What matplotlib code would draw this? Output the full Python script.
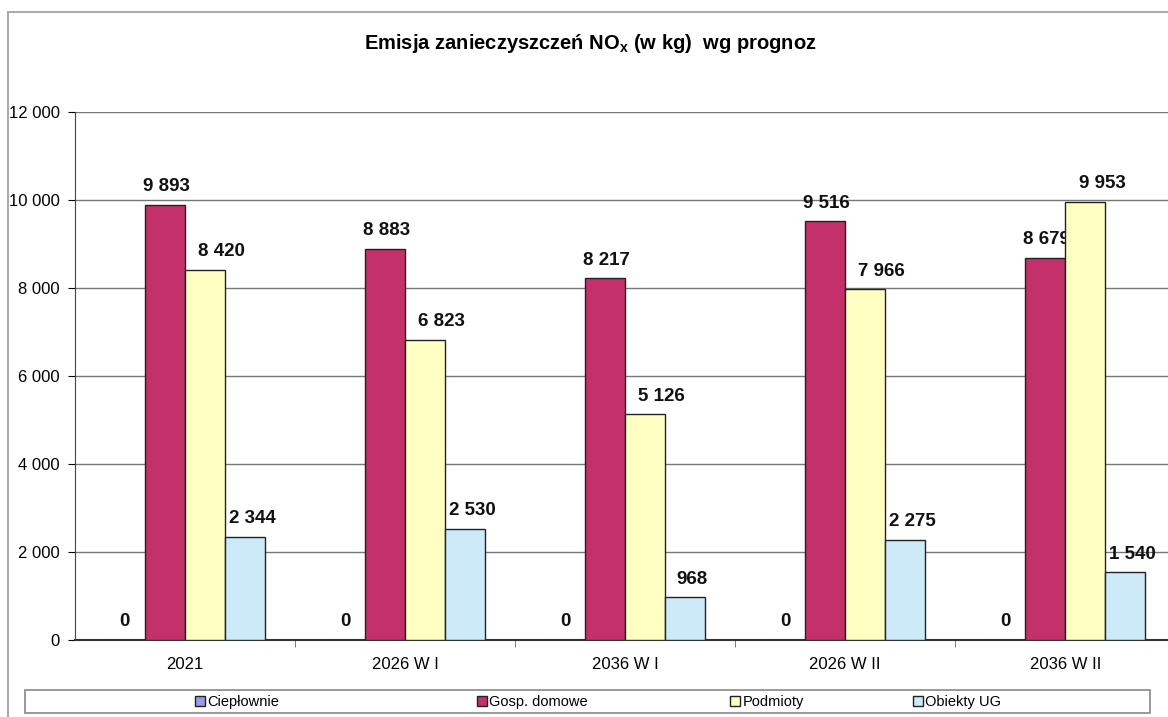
import numpy as np
import matplotlib.pyplot as plt
from matplotlib.patches import Rectangle, Patch
from matplotlib.ticker import FuncFormatter

plt.rcParams['font.family'] = ['Liberation Sans', 'DejaVu Sans']

kategorie = ["2021", "2026 W I", "2036 W I", "2026 W II", "2036 W II"]
cieplownie = [0, 0, 0, 0, 0]
gosp_domowe = [9893, 8883, 8217, 9516, 8679]
podmioty = [8420, 6823, 5126, 7966, 9953]
obiekty_ug = [2344, 2530, 968, 2275, 1540]

serie = ["Ciepłownie", "Gosp. domowe", "Podmioty", "Obiekty UG"]
kolory = ["#9a9ae6", "#c4306a", "#ffffc4", "#cdeaf8"]
# przesuniecie etykiet w poziomie (pkt) - jak w Excelu
przes_etyk = [0, 1, 12, 5]

fig = plt.figure(figsize=(11.68, 7.17), dpi=100)
ax = fig.add_axes([0.0642, 0.1074, 0.942, 0.7364])

x = np.arange(len(kategorie))
w = 0.182
dane = [cieplownie, gosp_domowe, podmioty, obiekty_ug]
for i, (vals, nazwa, kol) in enumerate(zip(dane, serie, kolory)):
    pos = x + (i - 1.5) * w
    ax.bar(pos, vals, width=w, color=kol, edgecolor="#222222",
           linewidth=1.0, label=nazwa, zorder=3)
    for px, v in zip(pos, vals):
        ax.annotate("{:,}".format(v).replace(",", " "), (px, v),
                    xytext=(przes_etyk[i], 7), textcoords="offset points",
                    ha="center", va="bottom", fontsize=13.5,
                    fontweight="bold", color="#111111")

ax.set_xlim(-0.5, len(kategorie) - 0.5)
ax.set_ylim(0, 12000)
ax.set_yticks(np.arange(0, 12001, 2000))
ax.yaxis.set_major_formatter(FuncFormatter(lambda v, p: "{:,}".format(int(v)).replace(",", " ")))
ax.set_xticks(x)
ax.set_xticklabels(kategorie)
ax.set_xticks(np.arange(0.5, len(kategorie) - 0.5), minor=True)
ax.tick_params(axis="x", which="major", length=0, pad=12, labelsize=12)
ax.tick_params(axis="x", which="minor", length=5, color="#666666")
ax.tick_params(axis="y", length=5, labelsize=12, pad=6)
for lab in ax.get_xticklabels() + ax.get_yticklabels():
    lab.set_fontweight("medium")

ax.grid(axis="y", color="#777777", linewidth=1.0, zorder=0)
ax.spines["top"].set_visible(False)
ax.spines["right"].set_visible(False)
ax.spines["left"].set_color("#444444")
ax.spines["bottom"].set_color("#333333")
ax.spines["bottom"].set_linewidth(1.5)

fig.text(0.505, 0.94, "Emisja zanieczyszczeń NO$_\\mathregular{x}$ (w kg)  wg prognoz",
         ha="center", va="center", fontsize=14.5, fontweight="bold")

# ramka wykresu
fig.patches.append(Rectangle((8 / 1168, -0.05), 1.1, 1 - 12 / 717 + 0.05,
                             transform=fig.transFigure, fill=False,
                             edgecolor="#aaaaaa", linewidth=1.5))

# legenda - ramka i wpisy rozmieszczone jak w oryginale
fig.patches.append(Rectangle((25 / 1168, 1 - 713 / 717), 1125 / 1168, 23 / 717,
                             transform=fig.transFigure, fill=False,
                             edgecolor="#888888", linewidth=1.2))
leg_x = [195, 477, 730, 913]
for nazwa, kol, lx in zip(serie, kolory, leg_x):
    fig.legend(handles=[Patch(facecolor=kol, edgecolor="#222222", linewidth=1.0)],
               labels=[nazwa], loc="center left",
               bbox_to_anchor=(lx / 1168, 1 - 702 / 717), frameon=False,
               fontsize=10.5, handlelength=0.7, handleheight=0.7,
               handletextpad=0.15, borderpad=0, borderaxespad=0)

fig.savefig("out.png", dpi=100)
